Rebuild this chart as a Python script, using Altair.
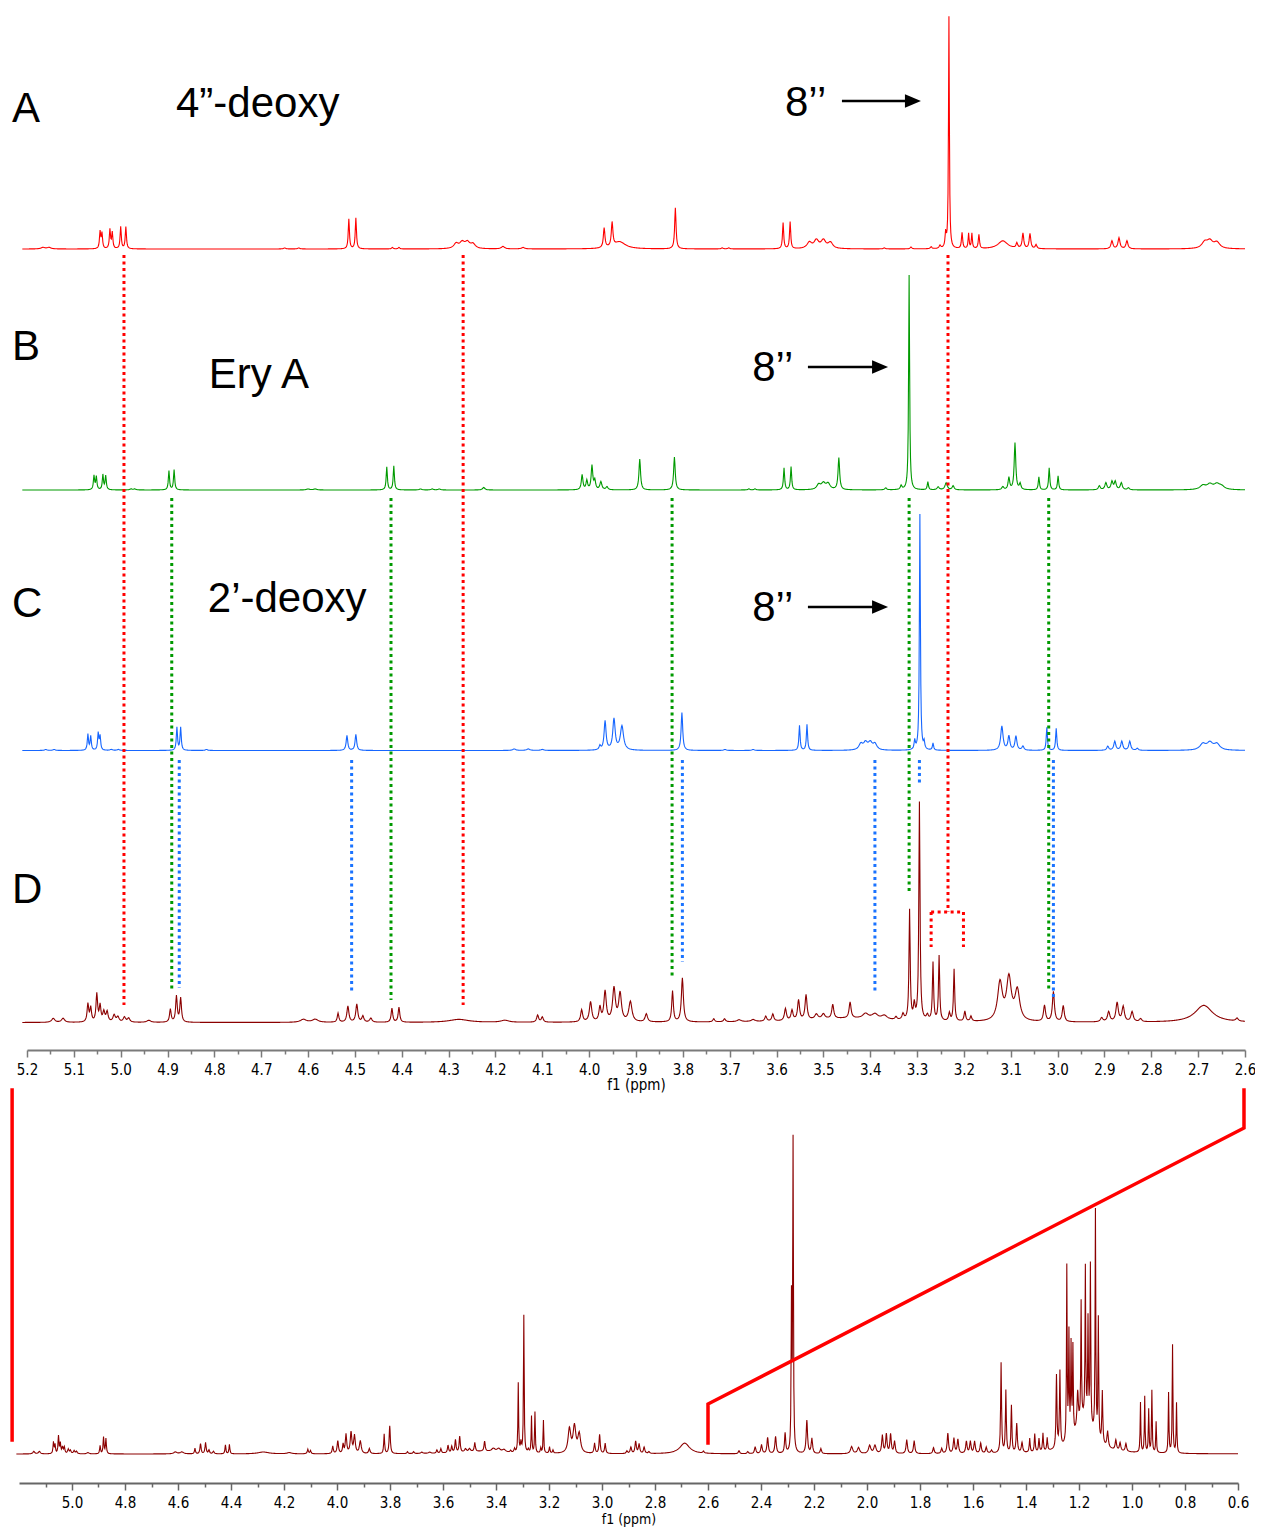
import numpy as np
import pandas as pd
import altair as alt

# ---------------- peak tables ----------------
# (ppm, height in px-units above the trace baseline, line width FWHM in ppm)
A_peaks = [
    (5.166, 1.5, 0.01), (5.153, 1.5, 0.01),
    (5.044, 17, 0.003), (5.040, 15, 0.003), (5.023, 19, 0.003), (5.018, 16, 0.003),
    (5.000, 22, 0.003), (4.989, 22, 0.003),
    (4.650, 1, 0.006), (4.620, 1, 0.006),
    (4.513, 30, 0.003), (4.498, 31, 0.003),
    (4.420, 1.5, 0.004), (4.406, 1.5, 0.004),
    (4.284, 5, 0.012), (4.271, 6, 0.012), (4.260, 6, 0.012), (4.248, 4.5, 0.012),
    (4.184, 2.5, 0.008), (4.141, 1.5, 0.008),
    (3.968, 20, 0.004), (3.951, 24, 0.004), (3.935, 7, 0.03),
    (3.816, 41, 0.0035),
    (3.716, 1, 0.005), (3.702, 1, 0.005),
    (3.586, 26, 0.003), (3.571, 27, 0.003),
    (3.530, 6, 0.012), (3.515, 8, 0.012), (3.500, 8, 0.012), (3.485, 6, 0.012),
    (3.370, 1, 0.005), (3.313, 2, 0.004), (3.270, 2, 0.004), (3.251, 3, 0.004),
    (3.239, 14, 0.003), (3.232, 232, 0.0022),
    (3.204, 16, 0.003), (3.190, 15, 0.0025), (3.183, 15, 0.0025), (3.168, 14, 0.003),
    (3.117, 8, 0.025),
    (3.087, 5, 0.004), (3.074, 15, 0.004), (3.059, 15, 0.004), (3.046, 4, 0.004),
    (2.884, 8, 0.005), (2.869, 11, 0.005), (2.852, 8, 0.005),
    (2.686, 6, 0.015), (2.675, 7, 0.015), (2.660, 6, 0.015),
]

B_peaks = [
    (5.057, 14, 0.003), (5.052, 13, 0.003), (5.038, 15, 0.003), (5.032, 14, 0.003),
    (4.978, 1, 0.006), (4.970, 1, 0.006),
    (4.897, 19, 0.003), (4.886, 20, 0.003),
    (4.600, 1, 0.008), (4.585, 1, 0.008),
    (4.432, 23, 0.003), (4.417, 24, 0.003),
    (4.360, 1, 0.006), (4.335, 1, 0.006), (4.320, 1, 0.006),
    (4.225, 2.5, 0.006),
    (4.015, 15, 0.004), (4.005, 9, 0.004), (3.994, 24, 0.004), (3.988, 9, 0.004),
    (3.975, 8, 0.005), (3.962, 3, 0.005),
    (3.892, 31, 0.004),
    (3.818, 33, 0.004),
    (3.659, 1, 0.005), (3.646, 1, 0.005),
    (3.584, 22, 0.003), (3.569, 23, 0.003),
    (3.510, 5, 0.01), (3.500, 6, 0.01), (3.490, 6, 0.01),
    (3.467, 32, 0.004),
    (3.367, 2, 0.005), (3.334, 4, 0.004),
    (3.317, 215, 0.0025),
    (3.277, 8, 0.003),
    (3.255, 3, 0.005), (3.238, 7, 0.006), (3.223, 4, 0.005),
    (3.117, 3, 0.005), (3.104, 12, 0.004), (3.091, 47, 0.004), (3.080, 6, 0.004),
    (3.040, 13, 0.003), (3.018, 22, 0.003), (2.999, 14, 0.003),
    (2.911, 4, 0.005), (2.897, 7, 0.005), (2.884, 8, 0.005), (2.877, 8, 0.005),
    (2.864, 7, 0.005), (2.849, 2, 0.005),
    (2.690, 4, 0.015), (2.675, 5, 0.015), (2.660, 5, 0.015), (2.650, 3, 0.015),
]

C_peaks = [
    (5.160, 1, 0.006), (5.142, 1, 0.006),
    (5.070, 16, 0.003), (5.064, 14, 0.003), (5.048, 17, 0.003), (5.044, 14, 0.003),
    (5.020, 1, 0.006), (5.005, 1, 0.006),
    (4.880, 23, 0.003), (4.872, 23, 0.003),
    (4.817, 1, 0.006),
    (4.517, 15, 0.004), (4.498, 16, 0.004),
    (4.160, 1.5, 0.008), (4.130, 1.5, 0.008), (4.100, 1, 0.008),
    (3.977, 4, 0.004), (3.966, 29, 0.005), (3.947, 31, 0.006), (3.930, 24, 0.008),
    (3.802, 38, 0.004),
    (3.710, 1, 0.006), (3.650, 1, 0.006),
    (3.551, 25, 0.003), (3.535, 26, 0.003),
    (3.420, 6, 0.01), (3.410, 7, 0.01), (3.400, 7, 0.01), (3.390, 6, 0.01),
    (3.305, 9, 0.003), (3.294, 236, 0.0025), (3.285, 7, 0.003), (3.266, 7, 0.003),
    (3.119, 24, 0.006), (3.104, 14, 0.005), (3.089, 14, 0.005), (3.074, 4, 0.005),
    (3.023, 23, 0.003), (3.003, 22, 0.003),
    (2.893, 4, 0.005), (2.878, 9, 0.005), (2.863, 9, 0.005), (2.846, 9, 0.005), (2.830, 2, 0.005),
    (2.690, 6, 0.015), (2.675, 7, 0.015), (2.660, 6, 0.015),
]

D_peaks = [
    (5.144, 4, 0.008), (5.123, 4, 0.008),
    (5.070, 18, 0.004), (5.064, 14, 0.004), (5.051, 28, 0.004), (5.044, 16, 0.004),
    (5.036, 10, 0.005), (5.029, 10, 0.005), (5.014, 7, 0.006), (5.006, 5, 0.006),
    (4.992, 5, 0.006), (4.983, 4, 0.006),
    (4.940, 2, 0.01),
    (4.894, 13, 0.004), (4.881, 26, 0.004), (4.872, 24, 0.004),
    (4.610, 3, 0.015), (4.585, 3, 0.015),
    (4.536, 9, 0.004), (4.515, 16, 0.005), (4.496, 18, 0.005), (4.483, 6, 0.005), (4.466, 4, 0.006),
    (4.421, 14, 0.004), (4.406, 15, 0.004),
    (4.278, 3, 0.05), (4.180, 2, 0.02),
    (4.110, 7, 0.005), (4.100, 5, 0.005),
    (4.016, 12, 0.005), (3.997, 20, 0.006), (3.977, 14, 0.005), (3.966, 30, 0.006),
    (3.947, 33, 0.007), (3.934, 28, 0.007), (3.912, 20, 0.008), (3.878, 8, 0.006),
    (3.822, 31, 0.004), (3.801, 44, 0.005),
    (3.734, 3, 0.005), (3.711, 3, 0.005), (3.680, 2, 0.01), (3.650, 2, 0.01),
    (3.623, 5, 0.005), (3.608, 7, 0.005), (3.581, 12, 0.005), (3.567, 10, 0.005),
    (3.553, 20, 0.005), (3.537, 25, 0.005), (3.515, 5, 0.008), (3.500, 5, 0.008),
    (3.480, 14, 0.005), (3.450, 4, 0.2), (3.443, 16, 0.005),
    (3.410, 5, 0.015), (3.390, 5, 0.015), (3.370, 4, 0.015),
    (3.345, 3, 0.005), (3.330, 6, 0.005),
    (3.316, 110, 0.003), (3.306, 15, 0.004), (3.295, 218, 0.003), (3.278, 5, 0.005),
    (3.266, 58, 0.003), (3.253, 65, 0.003), (3.231, 8, 0.004), (3.221, 52, 0.003),
    (3.198, 10, 0.004), (3.185, 5, 0.004),
    (3.123, 38, 0.012), (3.104, 42, 0.012), (3.086, 30, 0.012),
    (3.028, 16, 0.005), (3.009, 30, 0.005), (2.988, 16, 0.005),
    (2.906, 4, 0.006), (2.891, 10, 0.006), (2.873, 19, 0.006), (2.860, 15, 0.006),
    (2.841, 10, 0.006), (2.823, 3, 0.006),
    (2.688, 17, 0.045), (2.617, 3, 0.006),
]

# full-range trace of D below 2.6 ppm (heights in px-units above its baseline)
E_peaks = [
    (2.483, 3, 0.006), (2.450, 2, 0.006), (2.422, 7, 0.006), (2.398, 9, 0.006),
    (2.375, 16, 0.006), (2.345, 17, 0.006), (2.309, 20, 0.005),
    (2.285, 150, 0.003), (2.279, 310, 0.003),
    (2.227, 33, 0.006), (2.208, 15, 0.006), (2.174, 5, 0.006),
    (2.058, 7, 0.01), (2.032, 6, 0.01), (1.990, 8, 0.01), (1.970, 8, 0.01),
    (1.942, 18, 0.006), (1.927, 19, 0.006), (1.911, 19, 0.006), (1.896, 12, 0.006),
    (1.850, 14, 0.006), (1.822, 13, 0.006), (1.749, 6, 0.006), (1.718, 5, 0.006),
    (1.695, 20, 0.006), (1.672, 15, 0.006), (1.657, 14, 0.006),
    (1.625, 12, 0.006), (1.610, 12, 0.006), (1.594, 12, 0.006), (1.571, 10, 0.006),
    (1.550, 6, 0.006), (1.530, 3, 0.006),
    (1.494, 90, 0.004), (1.476, 62, 0.004), (1.455, 47, 0.004), (1.435, 29, 0.005),
    (1.415, 10, 0.006),
    (1.386, 14, 0.004), (1.367, 18, 0.004), (1.351, 13, 0.004), (1.336, 18, 0.004), (1.320, 13, 0.004),
    (1.285, 73, 0.004), (1.272, 76, 0.004),
    (1.246, 175, 0.003), (1.238, 105, 0.003), (1.230, 92, 0.003), (1.223, 88, 0.003),
    (1.205, 35, 0.006), (1.180, 35, 0.08),
    (1.192, 118, 0.003), (1.176, 150, 0.003), (1.166, 100, 0.003), (1.157, 160, 0.003),
    (1.138, 225, 0.003), (1.127, 120, 0.003), (1.112, 52, 0.004),
    (1.092, 16, 0.006), (1.061, 10, 0.006), (1.045, 8, 0.006), (1.023, 8, 0.006),
    (0.968, 50, 0.003), (0.952, 56, 0.003), (0.937, 43, 0.003), (0.925, 62, 0.003), (0.909, 31, 0.003),
    (0.862, 60, 0.003), (0.847, 108, 0.003), (0.832, 50, 0.003),
]

SERIES = ["A", "B", "C", "D"]
SERIES_COLORS = ["#ff0000", "#009a00", "#1666ff", "#8b0000"]
BASELINE = {"A": 801, "B": 560, "C": 299.5, "D": 27.5}
FULL_BASELINE = 29
FULL_SCALE = 0.63   # D trace intensity in the full-range panel relative to the stacked panel

# dotted connector lines (ppm, upper end, lower end) in stacked-panel units
DOT_X = [4.993, 4.269, 3.234, 3.270, 3.201,
         4.891, 4.423, 3.823, 3.317, 3.019,
         4.875, 4.507, 3.801, 3.390, 3.295, 3.009]
DOT_Y1 = [795, 795, 795, 138, 138,
          552, 552, 552, 552, 552,
          290, 290, 290, 290, 290, 290]
DOT_Y2 = [45, 45, 138, 103, 103,
          60, 50, 73, 158, 60,
          62, 59, 88, 57, 265, 50]
DOT_C = ["red"] * 5 + ["green"] * 5 + ["blue"] * 6
DOT_H = [(3.270, 3.201, 138)]

LABELS = ["A", "4\u201d-deoxy", "B", "Ery A", "C", "2\u2019-deoxy", "D",
          "8\u2019\u2019", "8\u2019\u2019", "8\u2019\u2019"]
LABEL_X = [5.232, 4.882, 5.232, 4.812, 5.232, 4.814, 5.232, 3.582, 3.652, 3.652]
LABEL_Y = [928, 933, 690, 662, 433, 438, 147, 934, 669, 429]

ARROW_X1 = [3.4604, 3.533, 3.533]
ARROW_X2 = [3.3195, 3.390, 3.390]
ARROW_HEAD = [3.3088, 3.379, 3.379]
ARROW_Y = [949, 683, 443]

# zoom bracket (full-panel coordinates)
BRACKET_X = [5.226, 5.226, 0.5774, 0.5774, 2.6, 2.6]
BRACKET_Y = [393, 43, 393, 355, 79, 40]
BRACKET_SEG = ["left", "left", "right", "right", "right", "right"]

TOP_TICKS = [round(5.2 - 0.1 * i, 1) for i in range(27)]
TOP_MINOR = [round(5.15 - 0.1 * i, 2) for i in range(26)]
FULL_TICKS = [round(5.0 - 0.2 * i, 1) for i in range(23)]
FULL_MINOR = [round(5.1 - 0.2 * i, 1) for i in range(23)]


def spectrum(peaks, lo, hi, step):
    grid = np.arange(lo, hi + step / 2, step)
    centers = np.array([p[0] for p in peaks if lo <= p[0] <= hi])
    grid = np.unique(np.round(np.concatenate([grid, centers]), 5))
    y = np.zeros_like(grid)
    for p, h, w in peaks:
        y += h / (1.0 + ((grid - p) / (w / 2.0)) ** 2)
    return grid, y


peak_sets = {"A": A_peaks, "B": B_peaks, "C": C_peaks, "D": D_peaks}
frames = []
for s in SERIES:
    g, y = spectrum(peak_sets[s], 2.6, 5.21, 0.001)
    frames.append(pd.DataFrame({"ppm": np.round(g, 4), "y": np.round(y + BASELINE[s], 2), "s": s}))
top_df = pd.concat(frames, ignore_index=True)

full_peaks = [(p, h * FULL_SCALE, w) for p, h, w in D_peaks] + E_peaks
g, y = spectrum(full_peaks, 0.6, 5.21, 0.002)
full_df = pd.DataFrame({"ppm": np.round(g, 4), "y": np.round(y + FULL_BASELINE, 2)})

dot_df = pd.DataFrame({"x": DOT_X, "y": DOT_Y1, "y2": DOT_Y2, "c": DOT_C})
doth_df = pd.DataFrame({"x": [d[0] for d in DOT_H], "x2": [d[1] for d in DOT_H], "y": [d[2] for d in DOT_H]})
txt_df = pd.DataFrame({"t": LABELS, "x": LABEL_X, "y": LABEL_Y})
arr_df = pd.DataFrame({"x": ARROW_X1, "x2": ARROW_X2, "hx": ARROW_HEAD, "y": ARROW_Y})
br_df = pd.DataFrame({"x": BRACKET_X, "y": BRACKET_Y, "seg": BRACKET_SEG, "k": list(range(len(BRACKET_X)))})

# ---------------- scales & axes ----------------
W, H = 1247, 1475
TOP_X = alt.Scale(domain=[5.2, 2.6], range=[19, 1237], nice=False, zero=False)
TOP_Y = alt.Scale(domain=[0, 1042], range=[1042, 0], nice=False, zero=False)
FULL_X = alt.Scale(domain=[5.2, 0.6], range=[11, 1230], nice=False, zero=False)
FULL_Y = alt.Scale(domain=[0, H], range=[H, 0], nice=False, zero=False)
TOP_OFFSET = 1042 - H
AXFONT = "DejaVu Sans Condensed, DejaVu Sans"
AXCOL = "#7a7a7a"

top_axis = alt.Axis(orient="bottom", offset=TOP_OFFSET, values=TOP_TICKS, format=".1f",
                    tickSize=7, tickWidth=1.5, tickColor=AXCOL, domainColor=AXCOL, domainWidth=2,
                    labelFont=AXFONT, labelFontSize=15, labelColor="black", labelPadding=5,
                    labelFlush=False, labelOverlap=False, grid=False,
                    title="f1 (ppm)", titleFont=AXFONT, titleFontSize=15, titleFontWeight="normal",
                    titleColor="black", titlePadding=0)
top_minor = alt.Axis(orient="bottom", offset=TOP_OFFSET, values=TOP_MINOR, tickSize=4, tickWidth=1.5,
                     tickColor=AXCOL, domain=False, labels=False, grid=False, title="")
full_axis = alt.Axis(orient="bottom", values=FULL_TICKS, format=".1f",
                     tickSize=7, tickWidth=1.5, tickColor="#666666", domainColor="#666666", domainWidth=2,
                     labelFont=AXFONT, labelFontSize=15, labelColor="black", labelPadding=5,
                     labelFlush=False, labelOverlap=False, grid=False,
                     title="f1 (ppm)", titleFont=AXFONT, titleFontSize=14, titleFontWeight="normal",
                     titleColor="black", titlePadding=2)
full_minor = alt.Axis(orient="bottom", values=FULL_MINOR, tickSize=4, tickWidth=1.5,
                      tickColor="#666666", domain=False, labels=False, grid=False, title="")

# ---------------- layers ----------------
spec_top = alt.Chart(top_df).mark_line(strokeWidth=1.1).encode(
    x=alt.X("ppm:Q", scale=TOP_X, axis=top_axis),
    y=alt.Y("y:Q", scale=TOP_Y, axis=None),
    color=alt.Color("s:N", scale=alt.Scale(domain=SERIES, range=SERIES_COLORS), legend=None),
)

dots = alt.Chart(dot_df).mark_rule(strokeWidth=3, strokeDash=[3, 3.5]).encode(
    x=alt.X("x:Q", scale=TOP_X, axis=top_minor),
    y=alt.Y("y:Q", scale=TOP_Y, axis=None),
    y2="y2:Q",
    color=alt.Color("c:N", scale=alt.Scale(domain=["red", "green", "blue"],
                                           range=["#ff0000", "#009900", "#1a73ff"]), legend=None),
)

dots_h = alt.Chart(doth_df).mark_rule(strokeWidth=3, strokeDash=[3, 3.5], color="#ff0000").encode(
    x=alt.X("x:Q", scale=TOP_X, axis=None),
    x2="x2:Q",
    y=alt.Y("y:Q", scale=TOP_Y, axis=None),
)

texts = alt.Chart(txt_df).mark_text(align="left", baseline="alphabetic", font="Liberation Sans",
                                     fontSize=42, color="black").encode(
    x=alt.X("x:Q", scale=TOP_X, axis=None),
    y=alt.Y("y:Q", scale=TOP_Y, axis=None),
    text="t:N",
)

arrows = alt.Chart(arr_df).mark_rule(strokeWidth=2.5, color="black").encode(
    x=alt.X("x:Q", scale=TOP_X, axis=None),
    x2="x2:Q",
    y=alt.Y("y:Q", scale=TOP_Y, axis=None),
)

heads = alt.Chart(arr_df).mark_point(shape="M -1 -0.85 L 1 0 L -1 0.85 Z", size=256, filled=True,
                                      color="black", opacity=1).encode(
    x=alt.X("hx:Q", scale=TOP_X, axis=None),
    y=alt.Y("y:Q", scale=TOP_Y, axis=None),
)

spec_full = alt.Chart(full_df).mark_line(strokeWidth=1.1, color="#8b0000").encode(
    x=alt.X("ppm:Q", scale=FULL_X, axis=full_axis),
    y=alt.Y("y:Q", scale=FULL_Y, axis=None),
)

bracket = alt.Chart(br_df).mark_line(strokeWidth=3.5, color="#ff0000", strokeJoin="miter",
                                      strokeCap="square").encode(
    x=alt.X("x:Q", scale=FULL_X, axis=full_minor),
    y=alt.Y("y:Q", scale=FULL_Y, axis=None),
    detail="seg:N",
    order=alt.Order("k:Q"),
)

chart = alt.layer(spec_top, dots, dots_h, texts, arrows, heads, spec_full, bracket).resolve_scale(
    x="independent", y="independent", color="independent"
).properties(
    width=W, height=H,
    padding={"left": 0, "top": 0, "right": 0, "bottom": 47},
    autosize=alt.AutoSizeParams(type="none"),
    background="white",
).configure_view(stroke=None)

chart.save("out.html", embed_options={"renderer": "svg", "actions": False})
